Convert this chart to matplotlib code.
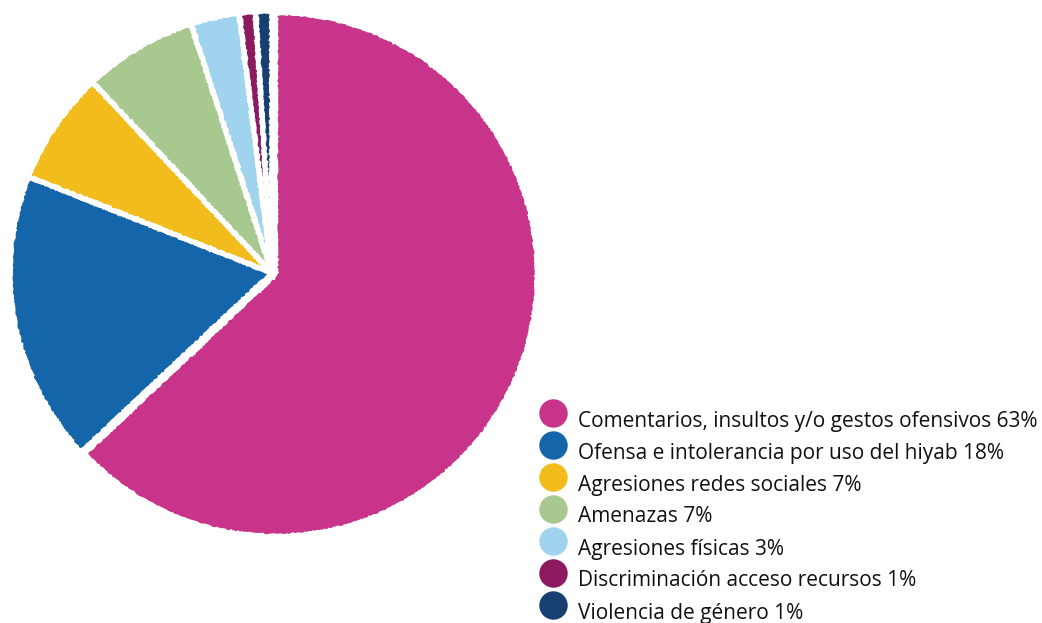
import matplotlib
matplotlib.use("Agg")
import matplotlib.pyplot as plt

categories = [
    "Comentarios, insultos y/o gestos ofensivos",
    "Ofensa e intolerancia por uso del hiyab",
    "Agresiones redes sociales",
    "Amenazas",
    "Agresiones físicas",
    "Discriminación acceso recursos",
    "Violencia de género",
]
percent = [63, 18, 7, 7, 3, 1, 1]
colors = ["#C8348A", "#1565AB", "#F2BC1C", "#A7C88E", "#A0D4EE", "#8B1A5F", "#173F72"]

W, H = 1042, 623
fig = plt.figure(figsize=(W / 100, H / 100), dpi=100)
fig.patch.set_facecolor("white")

# pie area (pixel geometry)
cx, cy, r = 272, 273, 262
ax = fig.add_axes([(cx - r) / W, (H - cy - r) / H, 2 * r / W, 2 * r / H])
wedges, _ = ax.pie(
    percent,
    colors=colors,
    startangle=90,
    counterclock=False,
    explode=[0.014, 0, 0, 0, 0, 0, 0],
    wedgeprops=dict(edgecolor="white", linewidth=3.5),
    radius=1.0,
)
for w in wedges:
    w.set_sketch_params(scale=0.6, length=6, randomness=6)
ax.set_xlim(-1.0, 1.0)
ax.set_ylim(-1.0, 1.0)
ax.set_aspect("equal")
ax.axis("off")

# legend overlay in pixel coordinates
lg = fig.add_axes([0, 0, 1, 1])
lg.set_xlim(0, W)
lg.set_ylim(H, 0)
lg.axis("off")
y0, dy = 413, 32
for i, (cat, p, c) in enumerate(zip(categories, percent, colors)):
    y = y0 + i * dy
    lg.scatter([553], [y], s=420, color=c, marker="o", linewidths=0)
    lg.text(578, y + 8, f"{cat} {p}%", fontsize=15, family="Open Sans",
            va="center", ha="left", color="#111111")

fig.savefig("out.png", dpi=100)
